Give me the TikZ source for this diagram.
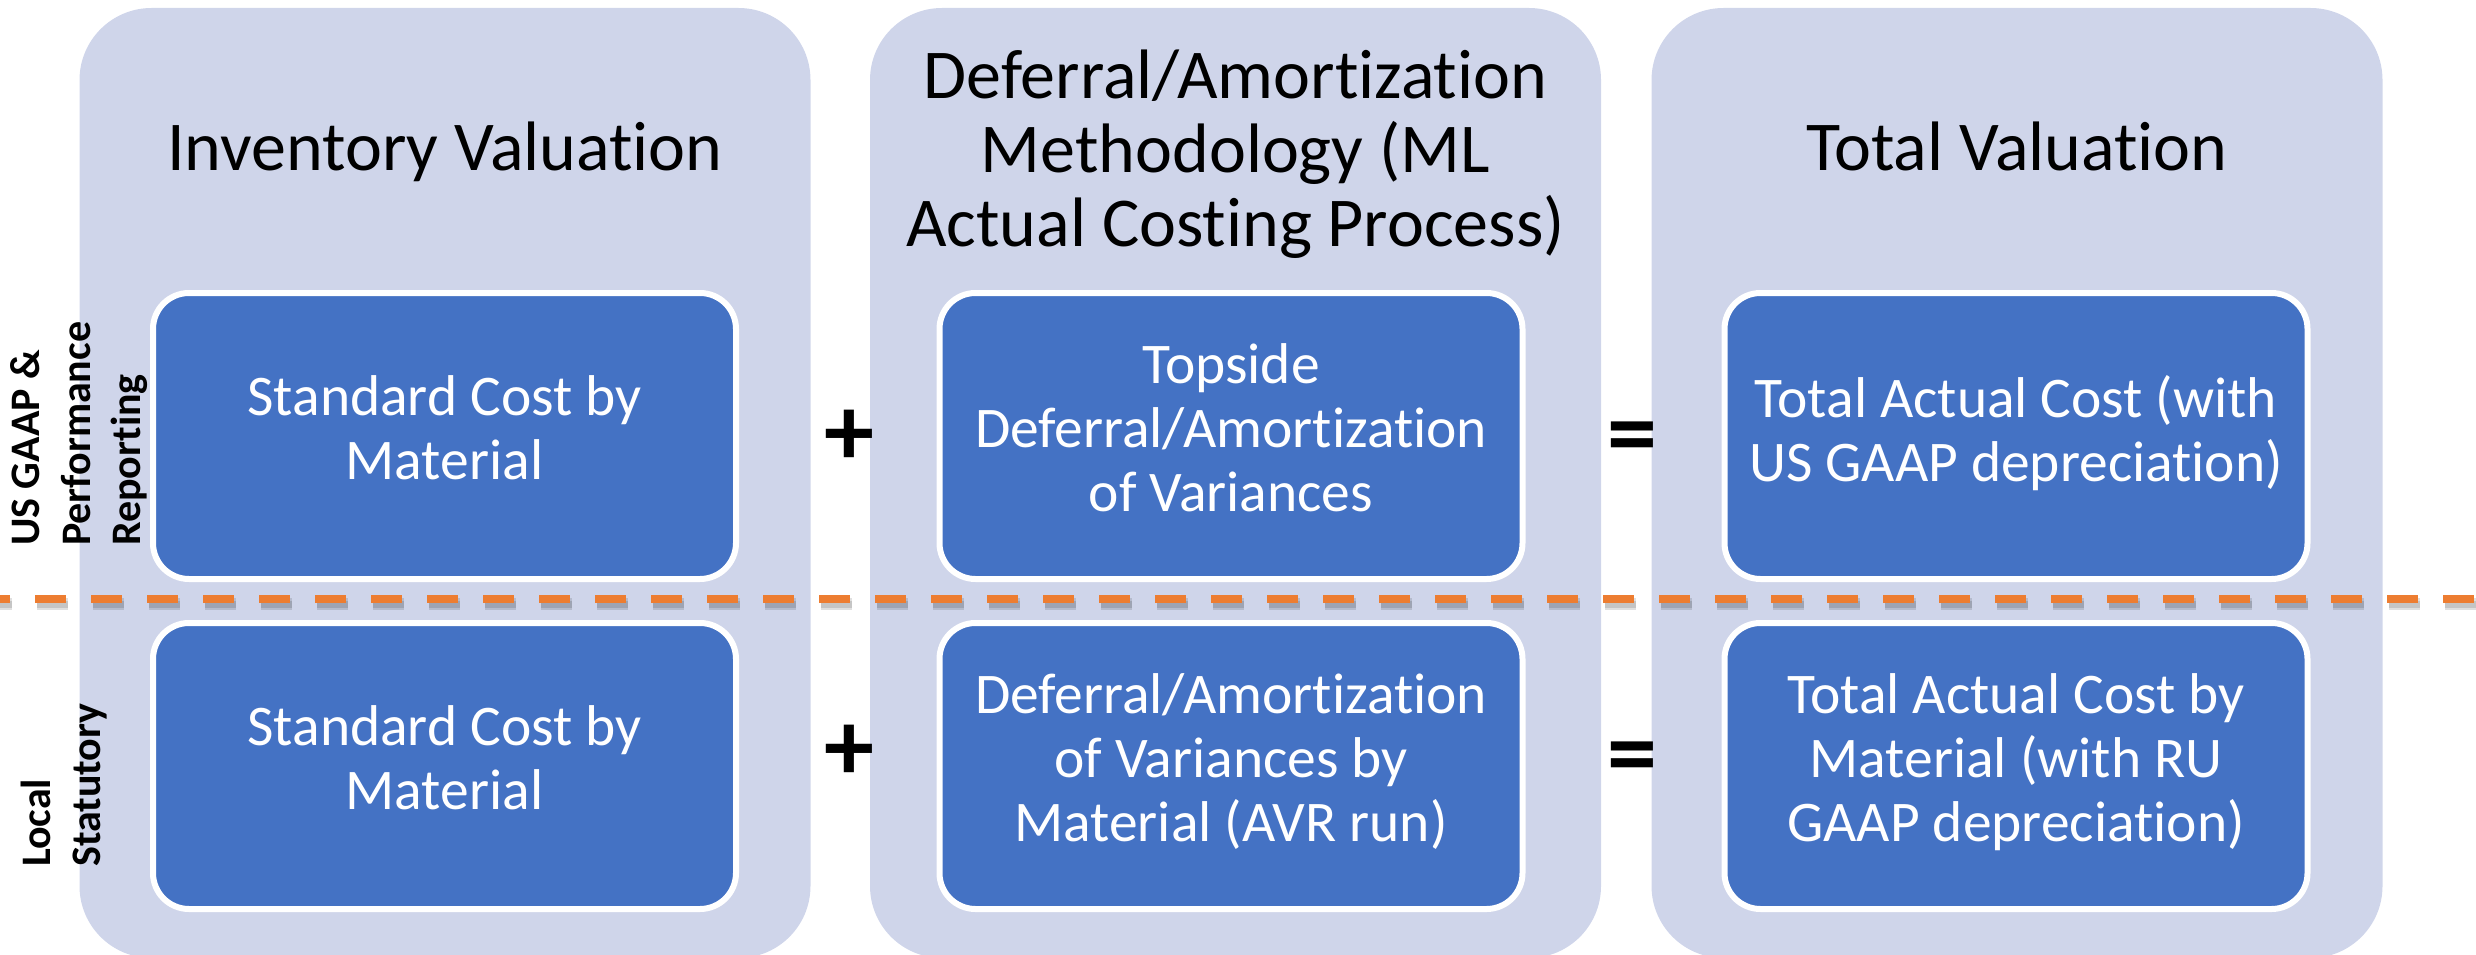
\documentclass[tikz,border=0pt]{standalone}
\usepackage{fontspec}
\setmainfont{Carlito}[Ligatures={NoCommon,NoContextual}]
\definecolor{panelfill}{HTML}{CFD5EA}
\definecolor{boxblue}{HTML}{4472C4}
\definecolor{dashorange}{HTML}{ED7D31}
% invisible rule that gives every box text the same top and bottom
\newcommand{\boxstrut}{\vrule width 0pt height 56pt depth 16pt}

\begin{document}
\begin{tikzpicture}[x=1pt,y=-1pt,
  panel/.style={rectangle, fill=panelfill, draw=none, rounded corners=72pt,
    minimum width=731pt, minimum height=950pt, inner sep=0pt},
  valbox/.style={rectangle, fill=boxblue, draw=white, line width=6pt,
    rounded corners=36pt, minimum width=583pt, minimum height=286pt,
    inner sep=0pt, text=white, align=center,
    font=\fontsize{57.5}{64}\selectfont,
    execute at begin node={\boxstrut}, execute at end node={\boxstrut}},
  heading/.style={inner sep=0pt, align=center, text=black,
    font=\fontsize{70}{74}\selectfont},
  sidelabel/.style={inner sep=0pt, rotate=90, anchor=base west,
    font=\fontsize{42}{50}\selectfont\bfseries},
  opsign/.style={inner sep=0pt, font=\fontsize{100}{100}\selectfont\bfseries},
  divider/.style={draw=dashorange, line width=8pt, dash pattern=on 31pt off 25pt},
  dividershadow/.style={draw=black, line width=#1, opacity=0.12,
    dash pattern=on 31pt off 25pt},
]
\useasboundingbox (0,0) rectangle (2476,955);

% three background columns
\node[panel] (p1) at (445,483) {};
\node[panel] (p2) at (1235.5,483) {};
\node[panel] (p3) at (2017,483) {};

% column headings
\node[heading, anchor=base] (h1) at (445,170) {Inventory Valuation};
\node[heading] (h2) at (1235.5,154) {Deferral/Amortization\\Methodology (ML\\Actual Costing Process)};
\node[heading, anchor=base] (h3) at (2017,170) {Total Valuation};

% row divider with its soft shadow
\coordinate (dl) at (-21,599);
\coordinate (dr) at (2520,599);
\draw[dividershadow=12pt] ([xshift=2pt,yshift=-5pt]dl) -- ([xshift=2pt,yshift=-5pt]dr);
\draw[dividershadow=7pt] ([xshift=2pt,yshift=-5pt]dl) -- ([xshift=2pt,yshift=-5pt]dr);
\draw[divider] (dl) -- (dr);

% upper row: US GAAP
\node[valbox] (a1) at (444.5,436) {Standard Cost by\\Material};
\node[valbox] (a2) at (1231,436) {Topside\\Deferral/Amortization\\of Variances};
\node[valbox] (a3) at (2016,436) {Total Actual Cost (with\\US GAAP depreciation)};

% lower row: local statutory
\node[valbox] (b1) at (444.5,766) {Standard Cost by\\Material};
\node[valbox] (b2) at (1231,766) {Deferral/Amortization\\of Variances by\\Material (AVR run)};
\node[valbox] (b3) at (2016,766) {Total Actual Cost by\\Material (with RU\\GAAP depreciation)};

% operators between the columns
\node[opsign] (plus1) at (849,438) {+};
\node[opsign] (plus2) at (849,753) {+};
\node[opsign] (eq1) at (1632,444) {=};
\node[opsign] (eq2) at (1632,764) {=};

% row labels, rotated
\node[sidelabel] (u1) at (39,546) {US GAAP \&};
\node[sidelabel] (u2) at (90,546) {Performance};
\node[sidelabel] (u3) at (140,546) {Reporting};
\node[sidelabel] (s1) at (50,867) {Local};
\node[sidelabel] (s2) at (100,867) {Statutory};
\end{tikzpicture}
\end{document}
